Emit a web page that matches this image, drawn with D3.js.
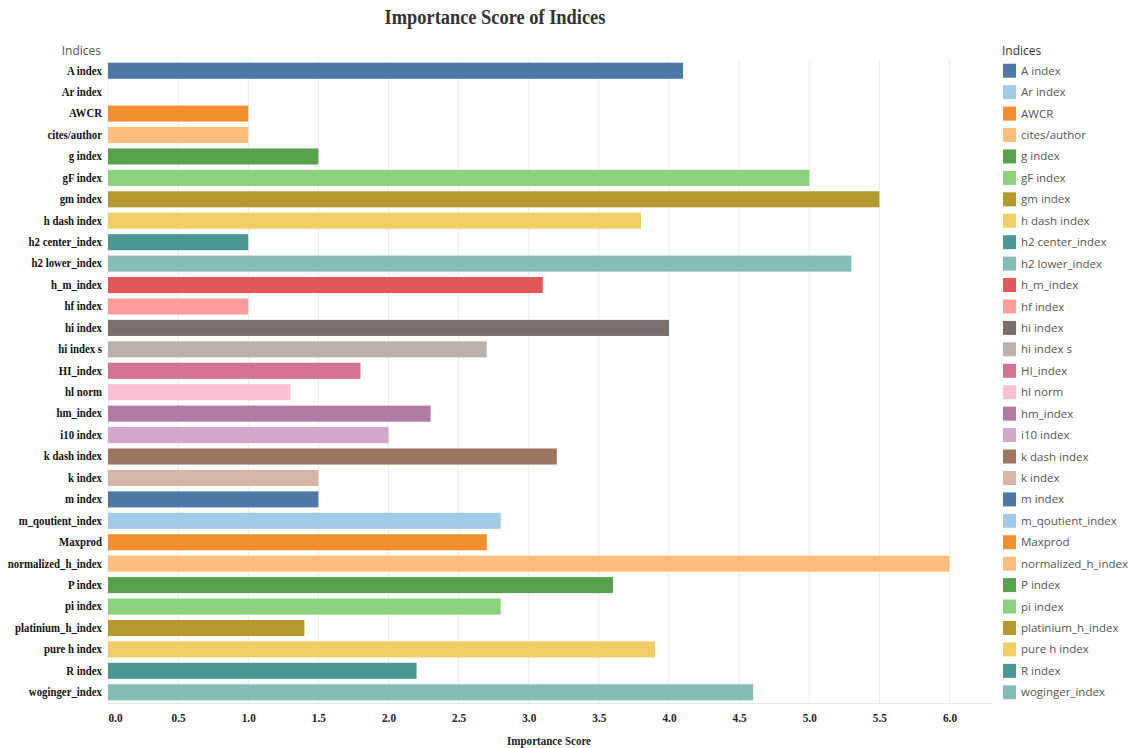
<!DOCTYPE html>
<html>
<head>
<meta charset="utf-8">
<script src="https://cdn.jsdelivr.net/npm/d3@7"></script>
<style>
  html, body { margin: 0; padding: 0; background: #fff; }
  svg { display: block; }
</style>
</head>
<body>
<svg id="chart" width="1130" height="748"></svg>
<script>
// Index names, in display order
const indices = [
  "A index", "Ar index", "AWCR", "cites/author", "g index", "gF index", "gm index",
  "h dash index", "h2 center_index", "h2 lower_index", "h_m_index", "hf index",
  "hi index", "hi index s", "HI_index", "hl norm", "hm_index", "i10 index",
  "k dash index", "k index", "m index", "m_qoutient_index", "Maxprod",
  "normalized_h_index", "P index", "pi index", "platinium_h_index",
  "pure h index", "R index", "woginger_index"
];

// Importance score per index
const scores = [
  4.1, 0, 1.0, 1.0, 1.5, 5.0, 5.5,
  3.8, 1.0, 5.3, 3.1, 1.0,
  4.0, 2.7, 1.8, 1.3, 2.3, 2.0,
  3.2, 1.5, 1.5, 2.8, 2.7,
  6.0, 3.6, 2.8, 1.4,
  3.9, 2.2, 4.6
];

// x-axis tick values
const xTicks = [0, 0.5, 1.0, 1.5, 2.0, 2.5, 3.0, 3.5, 4.0, 4.5, 5.0, 5.5, 6.0];

// Tableau 20 palette, cycled over the indices
const palette = [
  "#4E79A7", "#A0CBE8", "#F28E2B", "#FFBE7D", "#59A14F", "#8CD17D", "#B6992D",
  "#F1CE63", "#499894", "#86BCB6", "#E15759", "#FF9D9A", "#79706E", "#BAB0AC",
  "#D37295", "#FABFD2", "#B07AA1", "#D4A6C8", "#9D7660", "#D7B5A6"
];

const data = indices.map((name, i) => ({ name, value: scores[i] }));

const svg = d3.select("#chart");
const margin = { left: 108, right: 993, top: 60, bottom: 703 };

const x = d3.scaleLinear().domain([0, 6.31]).range([margin.left, margin.right]);
const y = d3.scaleBand().domain(indices).range([margin.top, margin.bottom]).paddingInner(0.25).paddingOuter(0.125);
const color = d3.scaleOrdinal().domain(indices).range(palette);

const serif = "'Liberation Serif', 'Times New Roman', serif";
const sans = "'Open Sans', 'Noto Sans', sans-serif";

// Narrowed serif text placed at (px, py)
function condensedText(px, py, sx) {
  return svg.append("text")
    .attr("transform", `translate(${px},${py}) scale(${sx},1)`);
}

// Title
condensedText(495, 24, 0.92)
  .attr("text-anchor", "middle")
  .attr("font-family", serif)
  .attr("font-weight", "bold")
  .attr("font-size", 20)
  .attr("fill", "#333")
  .text("Importance Score of Indices");

// Vertical gridlines
svg.append("g")
  .selectAll("line")
  .data(xTicks)
  .join("line")
  .attr("x1", d => x(d)).attr("x2", d => x(d))
  .attr("y1", margin.top).attr("y2", margin.bottom)
  .attr("stroke", "#ececec")
  .attr("stroke-width", 1);

// Bottom baseline
svg.append("line")
  .attr("x1", margin.left).attr("x2", margin.right)
  .attr("y1", margin.bottom + 0.5).attr("y2", margin.bottom + 0.5)
  .attr("stroke", "#e6e6e6");

// Bars
svg.append("g")
  .selectAll("rect")
  .data(data)
  .join("rect")
  .attr("x", x(0))
  .attr("y", d => y(d.name))
  .attr("width", d => x(d.value) - x(0))
  .attr("height", y.bandwidth())
  .attr("fill", d => color(d.name));

// Y axis labels
const yAxis = d3.axisLeft(y).tickSize(0).tickPadding(6);
const gy = svg.append("g").attr("transform", `translate(${margin.left},0)`).call(yAxis);
gy.select(".domain").remove();
gy.selectAll("text")
  .attr("x", 0)
  .attr("transform", "translate(-6,0) scale(0.9,1)")
  .attr("font-family", serif)
  .attr("font-weight", "bold")
  .attr("font-size", 12)
  .attr("fill", "#111");

// Y header
svg.append("text")
  .attr("x", 101).attr("y", 55)
  .attr("text-anchor", "end")
  .attr("font-family", sans)
  .attr("font-size", 12)
  .attr("fill", "#555")
  .text("Indices");

// X axis; the zero label is kept inside the plot's left edge
const xAxis = d3.axisBottom(x).tickValues(xTicks).tickFormat(d3.format(".1f")).tickSize(0).tickPadding(10);
const gx = svg.append("g").attr("transform", `translate(0,${margin.bottom})`).call(xAxis);
gx.select(".domain").remove();
gx.selectAll("text")
  .attr("transform", "scale(0.9,1)")
  .attr("font-family", serif)
  .attr("font-weight", "bold")
  .attr("font-size", 12.5)
  .attr("fill", "#222")
  .attr("text-anchor", d => d === 0 ? "start" : "middle");

// X axis title
condensedText(549, 745, 0.92)
  .attr("text-anchor", "middle")
  .attr("font-family", serif)
  .attr("font-weight", "bold")
  .attr("font-size", 12)
  .attr("fill", "#222")
  .text("Importance Score");

// Legend
const legend = svg.append("g");
legend.append("text")
  .attr("x", 1002).attr("y", 55)
  .attr("font-family", sans)
  .attr("font-size", 12)
  .attr("fill", "#333")
  .text("Indices");

const items = legend.selectAll("g.item")
  .data(indices)
  .join("g")
  .attr("class", "item")
  .attr("transform", d => `translate(1003,${y(d) + y.bandwidth() / 2})`);

items.append("rect")
  .attr("x", 0).attr("y", -7)
  .attr("width", 13).attr("height", 14)
  .attr("fill", d => color(d));

items.append("text")
  .attr("x", 18).attr("y", 0)
  .attr("dy", "0.35em")
  .attr("font-family", sans)
  .attr("font-size", 11.5)
  .attr("fill", "#555")
  .text(d => d);
</script>
</body>
</html>
